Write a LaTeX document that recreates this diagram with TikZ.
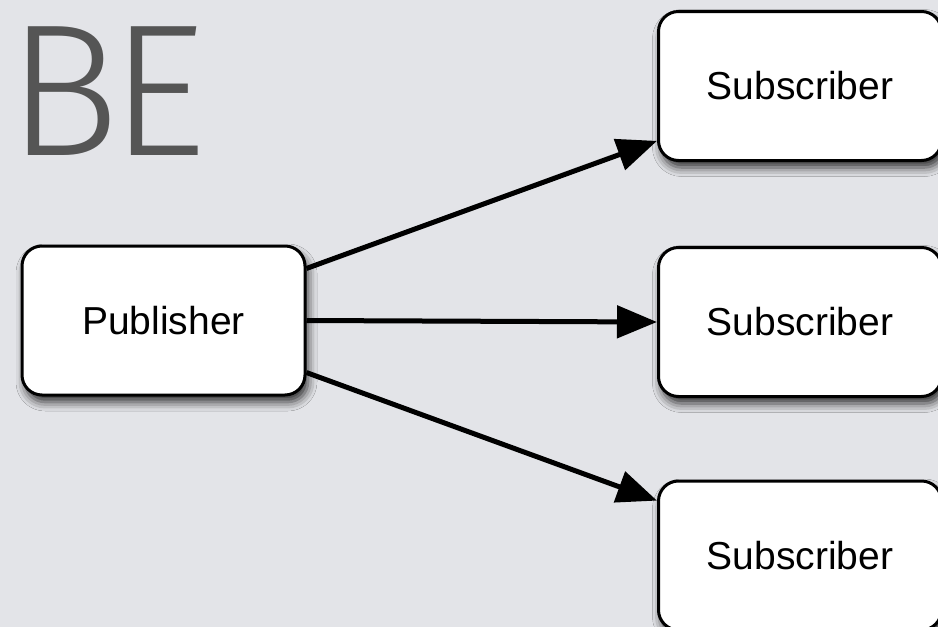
\documentclass[tikz,border=0pt]{standalone}
\usepackage{fontspec}
\setsansfont{Liberation Sans}
\newfontfamily\headfont{Fira Sans Light}
\usepackage{tikz}
\usetikzlibrary{arrows.meta,positioning,shadows.blur}

\definecolor{slidebg}{RGB}{227,228,232}
\definecolor{headgray}{RGB}{85,85,85}

\tikzset{
  box/.style={draw=black, line width=3pt, fill=white, rounded corners=20pt,
    minimum width=283pt, minimum height=149pt, inner sep=0pt,
    font=\sffamily\fontsize{39}{47}\selectfont,
    blur shadow={shadow xshift=3pt, shadow yshift=-7pt, shadow blur radius=9pt, shadow opacity=80}},
  feed/.style={line width=5pt, -{Triangle[length=40pt,width=32pt]}}
}

\begin{document}
\begin{tikzpicture}[x=1pt, y=-1pt]
  % slide background
  \fill[slidebg] (0,0) rectangle (938,627);
  \useasboundingbox (0,0) rectangle (938,627);

  % title fragment
  \node[anchor=base west, inner sep=0pt, text=headgray,
        font=\headfont\fontsize{188}{188}\selectfont] (title) at (7,155) {B\kern-9pt E};

  % publisher and subscribers
  \node[box] (pub) at (163.5,320.5) {Publisher};
  \node[box] (subA) at (800,86) {Subscriber};
  \node[box] (subB) at (800,322) {Subscriber};
  \node[box] (subC) at (800,555.5) {Subscriber};

  % message flow
  \draw[feed] (pub.20) -- (subA.201);
  \draw[feed] (pub.east) -- (subB.west);
  \draw[feed] (pub.-20) -- (subC.159);
\end{tikzpicture}
\end{document}
